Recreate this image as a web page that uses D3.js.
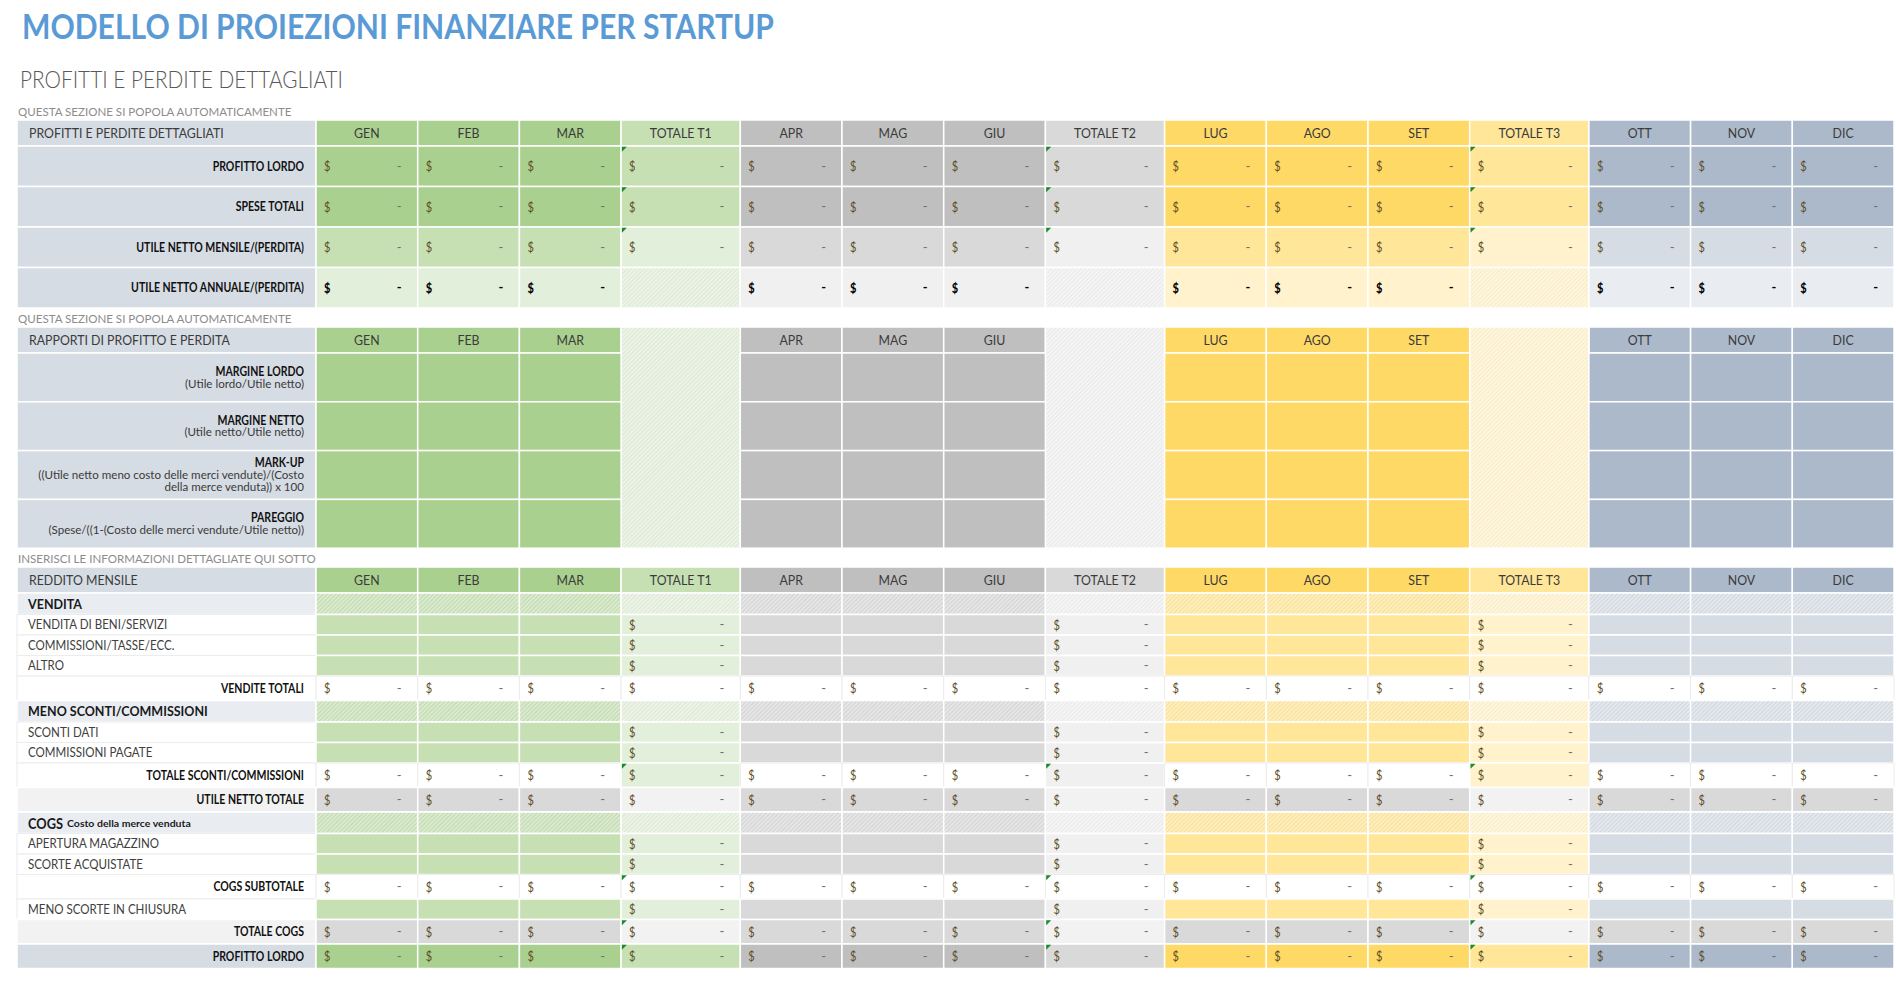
<!DOCTYPE html>
<html><head><meta charset="utf-8">
<script src="https://cdn.jsdelivr.net/npm/d3@7"></script>
<style>
body{margin:0;background:#fff;overflow:hidden}
svg{display:block}
text{font-family:Lato,"Open Sans","DejaVu Sans",sans-serif}
</style>
</head><body>
<svg id="c" width="1896" height="982"></svg>
<script>
// ---------------- DATA ----------------
const title = "MODELLO DI PROIEZIONI FINANZIARE PER STARTUP";
const subtitle = "PROFITTI E PERDITE DETTAGLIATI";
const notes = ["QUESTA SEZIONE SI POPOLA AUTOMATICAMENTE", "QUESTA SEZIONE SI POPOLA AUTOMATICAMENTE", "INSERISCI LE INFORMAZIONI DETTAGLIATE QUI SOTTO"];
const columns = ["GEN","FEB","MAR","TOTALE T1","APR","MAG","GIU","TOTALE T2","LUG","AGO","SET","TOTALE T3","OTT","NOV","DIC"];
const sectionTitles = ["PROFITTI E PERDITE DETTAGLIATI", "RAPPORTI DI PROFITTO E PERDITA", "REDDITO MENSILE"];

const summaryRows = ["PROFITTO LORDO","SPESE TOTALI","UTILE NETTO MENSILE/(PERDITA)","UTILE NETTO ANNUALE/(PERDITA)"];
const E = null;
const summaryValues = [
  [0,0,0,0, 0,0,0,0, 0,0,0,0, 0,0,0],
  [0,0,0,0, 0,0,0,0, 0,0,0,0, 0,0,0],
  [0,0,0,0, 0,0,0,0, 0,0,0,0, 0,0,0],
  [0,0,0,E, 0,0,0,E, 0,0,0,E, 0,0,0]
];

const ratioRows = ["MARGINE LORDO","MARGINE NETTO","MARK-UP","PAREGGIO"];
const ratioNotes = [
  ["(Utile lordo/Utile netto)"],
  ["(Utile netto/Utile netto)"],
  ["((Utile netto meno costo delle merci vendute)/(Costo", "della merce venduta)) x 100"],
  ["(Spese/((1-(Costo delle merci vendute/Utile netto))"]
];

const incomeRows = [
  {label:"VENDITA", kind:"section"},
  {label:"VENDITA DI BENI/SERVIZI", kind:"input"},
  {label:"COMMISSIONI/TASSE/ECC.", kind:"input"},
  {label:"ALTRO", kind:"input"},
  {label:"VENDITE TOTALI", kind:"total"},
  {label:"MENO SCONTI/COMMISSIONI", kind:"section"},
  {label:"SCONTI DATI", kind:"input"},
  {label:"COMMISSIONI PAGATE", kind:"input"},
  {label:"TOTALE SCONTI/COMMISSIONI", kind:"total"},
  {label:"UTILE NETTO TOTALE", kind:"net"},
  {label:"COGS", sub:"Costo della merce venduta", kind:"section"},
  {label:"APERTURA MAGAZZINO", kind:"input"},
  {label:"SCORTE ACQUISTATE", kind:"input"},
  {label:"COGS SUBTOTALE", kind:"total"},
  {label:"MENO SCORTE IN CHIUSURA", kind:"input"},
  {label:"TOTALE COGS", kind:"net"},
  {label:"PROFITTO LORDO", kind:"gross"}
];
const incomeValues = [
  [E,E,E,E, E,E,E,E, E,E,E,E, E,E,E],
  [E,E,E,0, E,E,E,0, E,E,E,0, E,E,E],
  [E,E,E,0, E,E,E,0, E,E,E,0, E,E,E],
  [E,E,E,0, E,E,E,0, E,E,E,0, E,E,E],
  [0,0,0,0, 0,0,0,0, 0,0,0,0, 0,0,0],
  [E,E,E,E, E,E,E,E, E,E,E,E, E,E,E],
  [E,E,E,0, E,E,E,0, E,E,E,0, E,E,E],
  [E,E,E,0, E,E,E,0, E,E,E,0, E,E,E],
  [0,0,0,0, 0,0,0,0, 0,0,0,0, 0,0,0],
  [0,0,0,0, 0,0,0,0, 0,0,0,0, 0,0,0],
  [E,E,E,E, E,E,E,E, E,E,E,E, E,E,E],
  [E,E,E,0, E,E,E,0, E,E,E,0, E,E,E],
  [E,E,E,0, E,E,E,0, E,E,E,0, E,E,E],
  [0,0,0,0, 0,0,0,0, 0,0,0,0, 0,0,0],
  [E,E,E,0, E,E,E,0, E,E,E,0, E,E,E],
  [0,0,0,0, 0,0,0,0, 0,0,0,0, 0,0,0],
  [0,0,0,0, 0,0,0,0, 0,0,0,0, 0,0,0]
];

// ---------------- STYLE ----------------
const PAL = [
  ["#A9D08E","#C6E0B4","#E2EFDA"],
  ["#BFBFBF","#D9D9D9","#F0F0F0"],
  ["#FFD966","#FFE699","#FFF2CC"],
  ["#ACB9CA","#D6DCE4","#E9EDF2"]
];
const LABEL_BG = "#D6DCE4", LABEL_LIGHT = "#E9EDF2";
const tintedTotals = new Set(["TOTALE SCONTI/COMMISSIONI"]);
const flagged = new Set(["TOTALE SCONTI/COMMISSIONI","COGS SUBTOTALE","TOTALE COGS","PROFITTO LORDO"]);

const svg = d3.select("#c");
const defs = svg.append("defs");
const pcache = {};
function hatch(base){
  const key = base.replace("#","");
  if(!pcache[key]){
    const p = defs.append("pattern").attr("id","h"+key).attr("patternUnits","userSpaceOnUse")
      .attr("width",3).attr("height",3).attr("patternTransform","rotate(45)");
    p.append("rect").attr("width",3).attr("height",3).attr("fill", d3.interpolateRgb(base,"#fff")(0.4));
    p.append("rect").attr("width",1.2).attr("height",3).attr("fill", d3.color(base).darker(0.08).formatHex());
    pcache[key] = `url(#h${key})`;
  }
  return pcache[key];
}

// scales
const colW = columns.map(c => c.startsWith("TOTALE") ? 1.172 : 1);
const colCum = d3.cumsum([0, ...colW]);
const x = d3.scaleLinear().domain([0, colCum[colCum.length-1]]).range([316, 1894]);
const cx0 = i => x(colCum[i]), cx1 = i => x(colCum[i+1]);
const isT = i => columns[i].startsWith("TOTALE");
const qOf = i => Math.floor(i/4);
const LX0 = 17, LX1 = 316;

function rowScale(top, heights){
  const cum = d3.cumsum([0, ...heights]);
  const y = d3.scaleLinear().domain([0, cum[cum.length-1]]).range([top, top + cum[cum.length-1]]);
  return {y0: i => y(cum[i]), y1: i => y(cum[i+1])};
}

// text styles
const ST = {
  hdr:  s => s.attr("font-size",14).attr("fill","#3b3b3b"),
  bold: s => s.attr("font-size",12.8).attr("font-weight","bold").attr("fill","#111"),
  reg:  s => s.attr("font-size",12.8).attr("fill","#404040"),
  sec:  s => s.attr("font-size",14).attr("font-weight","bold").attr("fill","#1a1a1a"),
  cogs: s => s.attr("font-size",16).attr("font-weight","bold").attr("fill","#1a1a1a"),
  tiny: s => s.attr("font-size",10).attr("font-weight","bold").attr("fill","#1a1a1a"),
  small:s => s.attr("font-size",11).attr("fill","#3a3a3a"),
  note: s => s.attr("font-size",11).attr("fill","#8c8c8c")
};
function measure(str, st){ const t = svg.append("text").text(str).call(ST[st]); const w = t.node().getComputedTextLength(); t.remove(); return w; }
const K = {
  hdr: 195 / measure("PROFITTI E PERDITE DETTAGLIATI","hdr"),
  bold: 173 / measure("UTILE NETTO ANNUALE/(PERDITA)","bold"),
  reg: 158 / measure("MENO SCORTE IN CHIUSURA","reg"),
  sec: 180 / measure("MENO SCONTI/COMMISSIONI","sec"),
  cogs: 35 / measure("COGS","cogs"),
  tiny: 124 / measure("Costo della merce venduta","tiny"),
  small: 266 / measure("((Utile netto meno costo delle merci vendute)/(Costo","small"),
  note: 274 / measure("QUESTA SEZIONE SI POPOLA AUTOMATICAMENTE","note")
};
function T(g, xx, yy, str, st, anchor){
  return g.append("text").attr("transform",`translate(${xx},${yy}) scale(${K[st]},1)`)
    .attr("text-anchor", anchor || "start").attr("dy","0.36em").text(str).call(ST[st]);
}
function cell(g, x0, y0, x1, y1, fill){
  const white = fill === "#FFFFFF";
  g.append("rect").attr("x",x0).attr("y",y0).attr("width",x1-x0).attr("height",y1-y0)
    .attr("fill",fill).attr("stroke", white ? "#ececec" : "#ffffff").attr("stroke-width", white ? 1 : 1.5);
}
const fmt = v => v === 0 ? "-" : d3.format(",.2f")(v);
function money(g, i, y0, y1, v, strong){
  const ym = (y0+y1)/2;
  g.append("text").attr("transform",`translate(${cx0(i)+8},${ym}) scale(0.85,1.08)`).attr("dy","0.36em").text("$")
    .attr("font-size", 13).attr("font-weight", strong ? "bold" : "normal")
    .attr("fill", strong ? "#000" : "#5d4c22");
  g.append("text").attr("x", cx1(i)-16).attr("y", ym).attr("dy","0.36em").attr("text-anchor","end").text(fmt(v))
    .attr("font-size", 13).attr("font-weight", strong ? "bold" : "normal")
    .attr("fill", strong ? "#000" : "#707070");
}
function flag(g, i, y0){
  g.append("path").attr("d", `M${cx0(i)+0.8},${y0+0.8}h5l-5,5z`).attr("fill","#1a8a2a");
}
function header(g, y0, y1, label, skipTotals){
  cell(g, LX0, y0, LX1, y1, LABEL_BG);
  T(g, 29, (y0+y1)/2, label, "hdr");
  columns.forEach((c,i) => {
    if (skipTotals && isT(i)) return;
    cell(g, cx0(i), y0, cx1(i), y1, PAL[qOf(i)][isT(i) ? 1 : 0]);
    T(g, (cx0(i)+cx1(i))/2, (y0+y1)/2, c, "hdr", "middle");
  });
}

// ---------------- TITLES ----------------
svg.append("text").attr("x",22).attr("y",39).text(title)
  .attr("font-size",34).attr("font-weight","bold").attr("fill","#5B9BD5")
  .attr("textLength",752).attr("lengthAdjust","spacingAndGlyphs");
svg.append("text").attr("x",20).attr("y",88).text(subtitle)
  .attr("font-size",24).attr("font-weight",300).attr("fill","#595959")
  .attr("textLength",323).attr("lengthAdjust","spacingAndGlyphs");
const noteY = [112, 319, 559];
notes.forEach((n,k) => T(svg, 18, noteY[k], n, "note"));

// ---------------- SECTION 1 ----------------
{
  const g = svg.append("g");
  const r = rowScale(120, [26, 40.5, 40.5, 40.5, 40.5]);
  header(g, r.y0(0), r.y1(0), sectionTitles[0], false);
  summaryRows.forEach((lab, k) => {
    const y0 = r.y0(k+1), y1 = r.y1(k+1);
    cell(g, LX0, y0, LX1, y1, LABEL_BG);
    T(g, 304, (y0+y1)/2, lab, "bold", "end");
    columns.forEach((c,i) => {
      const q = qOf(i), t = isT(i);
      let fill;
      if (k < 2) fill = PAL[q][t ? 1 : 0];
      else if (k === 2) fill = PAL[q][t ? 2 : 1];
      else fill = t ? hatch(PAL[q][2]) : PAL[q][2];
      cell(g, cx0(i), y0, cx1(i), y1, fill);
      const v = summaryValues[k][i];
      if (v !== null) money(g, i, y0, y1, v, k === 3);
      if (t && k < 3) flag(g, i, y0);
    });
  });
}

// ---------------- SECTION 2 ----------------
{
  const g = svg.append("g");
  const r = rowScale(327, [26, 48.8, 48.8, 48.8, 48.8]);
  header(g, r.y0(0), r.y1(0), sectionTitles[1], true);
  columns.forEach((c,i) => {
    if (isT(i)) cell(g, cx0(i), r.y0(0), cx1(i), r.y1(4), hatch(PAL[qOf(i)][2]));
  });
  ratioRows.forEach((lab, k) => {
    const y0 = r.y0(k+1), y1 = r.y1(k+1);
    cell(g, LX0, y0, LX1, y1, LABEL_BG);
    const lines = [lab, ...ratioNotes[k]];
    const lh = 12.4, mid = (y0+y1)/2, start = mid - (lines.length-1)*lh/2;
    lines.forEach((ln, j) => T(g, 304, start + j*lh, ln, j === 0 ? "bold" : "small", "end"));
    columns.forEach((c,i) => {
      if (!isT(i)) cell(g, cx0(i), y0, cx1(i), y1, PAL[qOf(i)][0]);
    });
  });
}

// ---------------- SECTION 3 ----------------
{
  const g = svg.append("g");
  const H = {section:21.5, input:20.5, total:24.5, net:24.5, gross:24.5};
  const r = rowScale(567, [26, ...incomeRows.map(d => H[d.kind])]);
  header(g, r.y0(0), r.y1(0), sectionTitles[2], false);
  incomeRows.forEach((d, k) => {
    const y0 = r.y0(k+1), y1 = r.y1(k+1), ym = (y0+y1)/2;
    const lbg = d.kind === "section" ? LABEL_LIGHT : d.kind === "net" ? "#F2F2F2" : d.kind === "gross" ? LABEL_BG : "#FFFFFF";
    cell(g, LX0, y0, LX1, y1, lbg);
    if (d.kind === "section") {
      if (d.sub) {
        T(g, 28, ym, d.label, "cogs");
        T(g, 67, ym + 1, d.sub, "tiny");
      } else T(g, 28, ym, d.label, "sec");
    } else if (d.kind === "input") T(g, 28, ym, d.label, "reg");
    else T(g, 304, ym, d.label, "bold", "end");

    columns.forEach((c,i) => {
      const q = qOf(i), t = isT(i);
      let fill;
      if (d.kind === "section") fill = hatch(PAL[q][t ? 2 : 1]);
      else if (d.kind === "input") fill = PAL[q][t ? 2 : 1];
      else if (d.kind === "total") fill = (t && tintedTotals.has(d.label)) ? PAL[q][2] : "#FFFFFF";
      else if (d.kind === "net") fill = t ? "#F2F2F2" : "#D9D9D9";
      else fill = PAL[q][t ? 1 : 0];
      cell(g, cx0(i), y0, cx1(i), y1, fill);
      const v = incomeValues[k][i];
      if (v !== null) money(g, i, y0, y1, v, false);
      if (t && flagged.has(d.label)) flag(g, i, y0);
    });
  });
}
</script>
</body></html>
